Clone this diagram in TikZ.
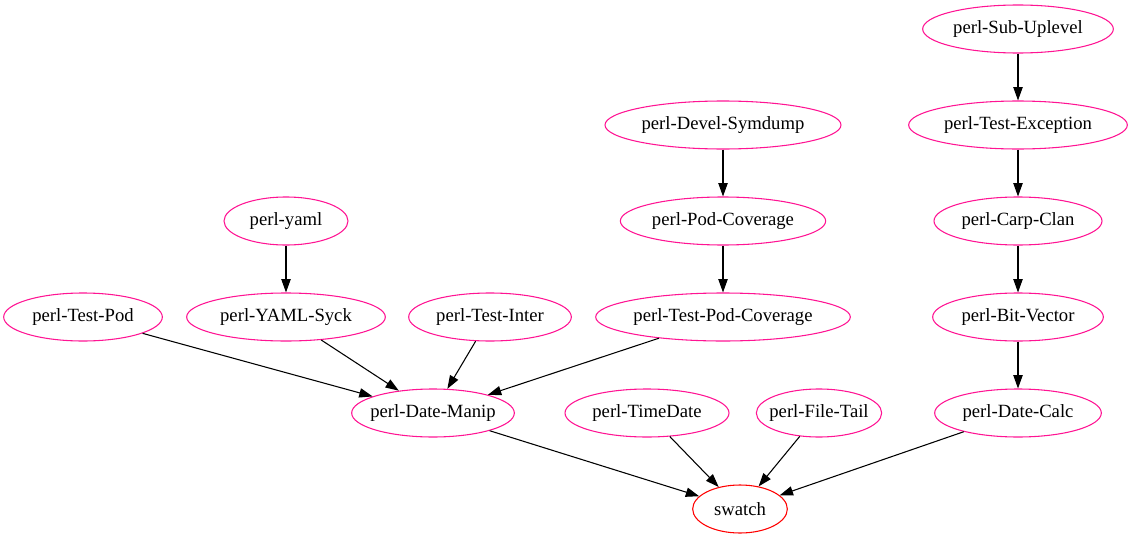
\documentclass[tikz,border=0pt]{standalone}
\usepackage{fontspec}
\setmainfont{Liberation Serif}
\usetikzlibrary{arrows.meta, shapes.geometric}
\definecolor{pkgpink}{HTML}{FF1493}

\tikzset{
  pkg/.style={draw=pkgpink, ellipse, line width=0.8pt, minimum height=36pt, inner xsep=-12pt, inner ysep=0pt, font=\fontsize{14}{16}\selectfont},
  top/.style={pkg, draw=red},
  dep/.style={-{Triangle[length=10pt,width=7pt]}, line width=0.8pt}
}

\begin{document}
\begin{tikzpicture}[x=0.75pt, y=-0.75pt]
\useasboundingbox (0, 0) rectangle (1132, 539);

\node[pkg, minimum width=143pt] (subup) at (1018, 29) {perl-Sub-Uplevel};
\node[pkg, minimum width=177pt] (symdump) at (723, 125) {perl-Devel-Symdump};
\node[pkg, minimum width=164pt] (testexc) at (1018, 125) {perl-Test-Exception};
\node[pkg, minimum width=93pt] (yaml) at (286, 221) {perl-yaml};
\node[pkg, minimum width=154pt] (podcov) at (723, 221) {perl-Pod-Coverage};
\node[pkg, minimum width=126pt] (carp) at (1018, 221) {perl-Carp-Clan};
\node[pkg, minimum width=119pt] (testpod) at (83, 317) {perl-Test-Pod};
\node[pkg, minimum width=149pt] (syck) at (286, 317) {perl-YAML-Syck};
\node[pkg, minimum width=122pt] (inter) at (490, 317) {perl-Test-Inter};
\node[pkg, minimum width=191pt] (tpodcov) at (723, 317) {perl-Test-Pod-Coverage};
\node[pkg, minimum width=128pt] (bitvec) at (1018, 317) {perl-Bit-Vector};
\node[pkg, minimum width=122pt] (manip) at (433, 413) {perl-Date-Manip};
\node[pkg, minimum width=123pt] (timedate) at (647, 413) {perl-TimeDate};
\node[pkg, minimum width=94pt] (filetail) at (819, 413) {perl-File-Tail};
\node[pkg, minimum width=125pt] (datecalc) at (1018, 413) {perl-Date-Calc};
\node[top, minimum width=71pt] (swatch) at (740, 509) {swatch};

\draw[dep] (subup) -- (testexc);
\draw[dep] (testexc) -- (carp);
\draw[dep] (carp) -- (bitvec);
\draw[dep] (bitvec) -- (datecalc);
\draw[dep] (symdump) -- (podcov);
\draw[dep] (podcov) -- (tpodcov);
\draw[dep] (yaml) -- (syck);
\draw[dep] (testpod) -- (manip);
\draw[dep] (syck) -- (manip);
\draw[dep] (inter) -- (manip);
\draw[dep] (tpodcov) -- (manip);
\draw[dep] (manip) -- (swatch);
\draw[dep] (timedate) -- (swatch);
\draw[dep] (filetail) -- (swatch);
\draw[dep] (datecalc) -- (swatch);
\end{tikzpicture}
\end{document}
